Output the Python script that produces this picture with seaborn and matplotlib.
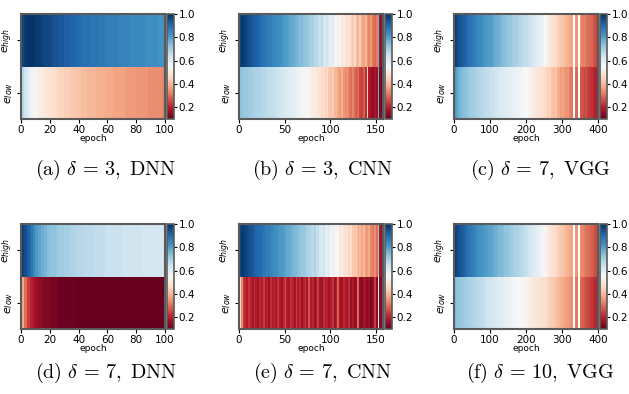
import numpy as np
import pandas as pd
import matplotlib
matplotlib.use('Agg')
import matplotlib.pyplot as plt
import seaborn as sns

nan = np.nan

# (a) delta=3, DNN -- 2 epochs per cell, 100 epochs
dnn3_high = [0.96, 0.98, 0.99, 0.99, 0.99, 0.98, 0.98, 0.97, 0.96, 0.96,
             0.95, 0.94, 0.94, 0.93, 0.93, 0.92, 0.92, 0.91, 0.91, 0.90,
             0.90, 0.89, 0.89, 0.89, 0.88, 0.88, 0.88, 0.87, 0.87, 0.87,
             0.86, 0.86, 0.86, 0.86, 0.85, 0.85, 0.85, 0.85, 0.84, 0.84,
             0.84, 0.84, 0.84, 0.83, 0.83, 0.83, 0.83, 0.83, 0.82, 0.82]
dnn3_low = [0.68, 0.64, 0.60, 0.57, 0.55, 0.53, 0.52, 0.51, 0.50, 0.49,
            0.48, 0.47, 0.46, 0.45, 0.45, 0.44, 0.44, 0.43, 0.43, 0.42,
            0.42, 0.41, 0.41, 0.40, 0.40, 0.40, 0.39, 0.39, 0.39, 0.38,
            0.38, 0.38, 0.37, 0.37, 0.37, 0.37, 0.36, 0.36, 0.36, 0.36,
            0.35, 0.35, 0.35, 0.35, 0.34, 0.34, 0.34, 0.34, 0.34, 0.33]

# (d) delta=7, DNN
dnn7_high = [0.97, 0.95, 0.92, 0.88, 0.84, 0.81, 0.79, 0.77, 0.76, 0.74,
             0.73, 0.73, 0.72, 0.71, 0.71, 0.70, 0.70, 0.69, 0.69, 0.68,
             0.68, 0.68, 0.67, 0.67, 0.67, 0.66, 0.66, 0.66, 0.66, 0.65,
             0.65, 0.65, 0.65, 0.65, 0.65, 0.64, 0.64, 0.64, 0.64, 0.64,
             0.64, 0.64, 0.63, 0.63, 0.63, 0.63, 0.63, 0.63, 0.63, 0.63]
dnn7_low = [0.38, 0.30, 0.24, 0.20, 0.18, 0.16, 0.15, 0.14, 0.13, 0.13,
            0.12, 0.12, 0.12, 0.11, 0.11, 0.11, 0.11, 0.11, 0.11, 0.10,
            0.10, 0.10, 0.10, 0.10, 0.10, 0.10, 0.10, 0.10, 0.10, 0.10,
            0.10, 0.10, 0.10, 0.10, 0.10, 0.10, 0.10, 0.10, 0.10, 0.10,
            0.10, 0.10, 0.10, 0.10, 0.10, 0.10, 0.10, 0.10, 0.10, 0.10]

# (b) delta=3, CNN -- 2 epochs per cell, 158 epochs
cnn3_high = [0.96, 0.98, 0.98, 0.97, 0.96, 0.95, 0.94, 0.93, 0.92, 0.92,
             0.91, 0.90, 0.89, 0.88, 0.88, 0.87, 0.86, 0.86, 0.85, 0.84,
             0.84, 0.83, 0.83, 0.82, 0.81, 0.80, 0.80, 0.79, 0.78, 0.78,
             0.77, 0.76, 0.76, 0.74, 0.75, 0.73, 0.72, 0.73, 0.71, 0.70,
             0.70, 0.67, 0.69, 0.66, 0.65, 0.67, 0.63, 0.62, 0.64, 0.60,
             0.58, 0.61, 0.56, 0.55, 0.52, 0.55, 0.50, 0.52, 0.48, 0.47,
             0.49, 0.45, 0.43, 0.47, 0.41, 0.40, 0.44, 0.38, 0.37, 0.40,
             0.35, 0.33, 0.36, 0.31, 0.29, 0.32, 0.77, 0.17, 0.15]
cnn3_low = [0.73, 0.73, 0.72, 0.72, 0.72, 0.71, 0.71, 0.70, 0.70, 0.69,
            0.69, 0.69, 0.68, 0.68, 0.67, 0.67, 0.66, 0.66, 0.66, 0.65,
            0.65, 0.64, 0.64, 0.63, 0.63, 0.62, 0.61, 0.61, 0.60, 0.59,
            0.59, 0.58, 0.58, 0.57, 0.56, 0.56, 0.55, 0.54, 0.54, 0.52,
            0.51, 0.52, 0.49, 0.50, 0.48, 0.46, 0.47, 0.44, 0.46, 0.43,
            0.42, 0.44, 0.40, 0.41, 0.38, 0.36, 0.39, 0.35, 0.34, 0.36,
            0.32, 0.30, 0.33, 0.29, 0.27, 0.30, 0.25, 0.24, 0.28, 0.22,
            0.45, 0.19, 0.17, 0.15, 0.18, 0.16, 0.77, 0.13, 0.12]

# (e) delta=7, CNN
cnn7_high = [0.96, 0.98, 0.98, 0.97, 0.96, 0.95, 0.94, 0.93, 0.92, 0.91,
             0.90, 0.90, 0.89, 0.88, 0.87, 0.86, 0.86, 0.85, 0.84, 0.83,
             0.83, 0.82, 0.81, 0.81, 0.80, 0.79, 0.78, 0.78, 0.77, 0.76,
             0.75, 0.75, 0.74, 0.73, 0.72, 0.72, 0.71, 0.70, 0.69, 0.68,
             0.67, 0.69, 0.65, 0.66, 0.63, 0.62, 0.64, 0.60, 0.59, 0.61,
             0.56, 0.58, 0.54, 0.53, 0.55, 0.50, 0.52, 0.48, 0.47, 0.50,
             0.45, 0.47, 0.43, 0.42, 0.45, 0.39, 0.40, 0.37, 0.41, 0.36,
             0.35, 0.38, 0.33, 0.32, 0.34, 0.30, 0.72, 0.18, 0.16]
cnn7_low = [0.47, 0.33, 0.24, 0.21, 0.19, 0.23, 0.20, 0.18, 0.22, 0.19,
            0.17, 0.21, 0.19, 0.24, 0.18, 0.20, 0.16, 0.22, 0.19, 0.21,
            0.18, 0.23, 0.19, 0.17, 0.21, 0.26, 0.19, 0.18, 0.22, 0.20,
            0.17, 0.24, 0.19, 0.21, 0.16, 0.20, 0.23, 0.18, 0.27, 0.19,
            0.21, 0.17, 0.19, 0.24, 0.18, 0.16, 0.22, 0.19, 0.20, 0.17,
            0.19, 0.23, 0.17, 0.20, 0.28, 0.18, 0.16, 0.21, 0.19, 0.17,
            0.22, 0.16, 0.19, 0.15, 0.17, 0.30, 0.15, 0.14, 0.18, 0.16,
            0.14, 0.16, 0.13, 0.15, 0.24, 0.14, 0.60, 0.13, 0.14]

# (c) delta=7, VGG -- 5 epochs per cell, 400 epochs (nan = missing epoch)
vgg7_high = [0.97, 0.96, 0.95, 0.94, 0.93, 0.92, 0.91, 0.90, 0.89, 0.88,
             0.87, 0.86, 0.85, 0.84, 0.84, 0.83, 0.82, 0.81, 0.81, 0.80,
             0.80, 0.79, 0.78, 0.77, 0.77, 0.76, 0.75, 0.74, 0.74, 0.73,
             0.72, 0.72, 0.71, 0.70, 0.70, 0.69, 0.68, 0.68, 0.67, 0.66,
             0.66, 0.65, 0.64, 0.63, 0.62, 0.61, 0.60, 0.58, 0.59, 0.57,
             0.55, 0.53, 0.52, 0.50, 0.49, 0.47, 0.46, 0.45, 0.44, 0.43,
             0.42, 0.41, 0.40, 0.39, 0.38, 0.37, nan, 0.36, 0.35, nan,
             0.34, 0.32, 0.33, 0.31, 0.30, 0.29, 0.29, 0.27, 0.26, 0.25]
vgg7_low = [0.81, 0.79, 0.77, 0.76, 0.75, 0.74, 0.73, 0.73, 0.72, 0.71,
            0.71, 0.70, 0.69, 0.69, 0.68, 0.68, 0.67, 0.67, 0.66, 0.66,
            0.65, 0.65, 0.64, 0.64, 0.63, 0.62, 0.62, 0.61, 0.61, 0.60,
            0.60, 0.59, 0.59, 0.58, 0.58, 0.57, 0.57, 0.56, 0.56, 0.55,
            0.55, 0.54, 0.53, 0.52, 0.51, 0.50, 0.49, 0.48, 0.49, 0.47,
            0.46, 0.45, 0.44, 0.45, 0.42, 0.41, 0.42, 0.39, 0.38, 0.36,
            0.37, 0.35, 0.34, 0.35, 0.32, 0.31, nan, 0.30, 0.29, nan,
            0.27, 0.26, 0.25, 0.26, 0.24, 0.23, 0.22, 0.21, 0.20, 0.19]

# (f) delta=10, VGG
vgg10_high = [0.97, 0.96, 0.95, 0.94, 0.93, 0.92, 0.90, 0.89, 0.88, 0.87,
              0.86, 0.85, 0.84, 0.83, 0.82, 0.82, 0.81, 0.80, 0.80, 0.79,
              0.79, 0.78, 0.77, 0.77, 0.76, 0.75, 0.75, 0.74, 0.73, 0.73,
              0.72, 0.71, 0.71, 0.70, 0.69, 0.69, 0.68, 0.67, 0.67, 0.66,
              0.65, 0.64, 0.63, 0.62, 0.61, 0.60, 0.59, 0.58, 0.57, 0.56,
              0.54, 0.53, 0.51, 0.50, 0.48, 0.47, 0.46, 0.45, 0.44, 0.43,
              0.42, 0.41, 0.40, 0.39, 0.38, 0.37, nan, 0.36, 0.35, nan,
              0.34, 0.33, 0.32, 0.31, 0.30, 0.29, 0.28, 0.27, 0.26, 0.25]
vgg10_low = [0.74, 0.73, 0.73, 0.72, 0.72, 0.71, 0.71, 0.70, 0.70, 0.69,
             0.69, 0.68, 0.68, 0.67, 0.67, 0.66, 0.66, 0.65, 0.64, 0.64,
             0.63, 0.63, 0.62, 0.62, 0.61, 0.61, 0.60, 0.60, 0.59, 0.58,
             0.58, 0.57, 0.57, 0.56, 0.56, 0.55, 0.55, 0.54, 0.54, 0.53,
             0.53, 0.52, 0.52, 0.51, 0.50, 0.50, 0.49, 0.49, 0.48, 0.47,
             0.47, 0.46, 0.45, 0.44, 0.44, 0.43, 0.42, 0.41, 0.40, 0.39,
             0.38, 0.37, 0.37, 0.36, 0.35, 0.34, nan, 0.32, 0.31, nan,
             0.29, 0.28, 0.27, 0.26, 0.25, 0.24, 0.23, 0.22, 0.21, 0.20]

row_labels = [r'$e_{high}$', r'$e_{low}$']
dnn_ticks = [0, 20, 40, 60, 80, 100]
cnn_ticks = [0, 50, 100, 150]
vgg_ticks = [0, 100, 200, 300, 400]
captions = [r'$\mathrm{(a)}\ \delta\,=\,3,\ \mathrm{DNN}$',
            r'$\mathrm{(b)}\ \delta\,=\,3,\ \mathrm{CNN}$',
            r'$\mathrm{(c)}\ \delta\,=\,7,\ \mathrm{VGG}$',
            r'$\mathrm{(d)}\ \delta\,=\,7,\ \mathrm{DNN}$',
            r'$\mathrm{(e)}\ \delta\,=\,7,\ \mathrm{CNN}$',
            r'$\mathrm{(f)}\ \delta\,=\,10,\ \mathrm{VGG}$']

panels = [
    (dnn3_high, dnn3_low, 2, dnn_ticks),
    (cnn3_high, cnn3_low, 2, cnn_ticks),
    (vgg7_high, vgg7_low, 5, vgg_ticks),
    (dnn7_high, dnn7_low, 2, dnn_ticks),
    (cnn7_high, cnn7_low, 2, cnn_ticks),
    (vgg10_high, vgg10_low, 5, vgg_ticks),
]

W, H = 629, 394
fig = plt.figure(figsize=(W / 100, H / 100), dpi=100)

col_left = [21, 239, 454]
row_top = [14, 224]
ax_w, ax_h = 144, 105
caption_x = [106, 323, 540]
caption_y = [170, 373]
frame = '#5a5a5a'


def draw_panel(ax, cax, high, low, step, ticks):
    df = pd.DataFrame([high, low], index=row_labels,
                      columns=[i * step for i in range(len(high))])
    sns.heatmap(df, ax=ax, cbar_ax=cax, cmap='RdBu', vmin=0.1, vmax=1.0,
                xticklabels=False, yticklabels=True)
    ax.set_xticks([t / step for t in ticks])
    ax.set_xticklabels([str(t) for t in ticks], rotation=0, fontsize=7.5)
    ax.set_yticks([0.5, 1.5])
    ax.set_yticklabels(row_labels, rotation=90, va='center', fontsize=8)
    ax.tick_params(axis='both', length=3, width=0.8, pad=1.5)
    ax.set_xlabel('epoch', fontsize=6.5, labelpad=-1)
    ax.set_ylabel('')
    for sp in ax.spines.values():
        sp.set_visible(True)
        sp.set_color(frame)
        sp.set_linewidth(1.5)
    cb = ax.collections[0].colorbar
    cb.set_ticks([0.2, 0.4, 0.6, 0.8, 1.0])
    cb.ax.tick_params(labelsize=7.5, length=2.5, width=0.8, pad=1)
    cb.outline.set_linewidth(1.2)
    cb.outline.set_edgecolor(frame)


for k, (high, low, step, ticks) in enumerate(panels):
    r, c = divmod(k, 3)
    x0 = col_left[c]
    y0 = row_top[r]
    ax = fig.add_axes([x0 / W, 1 - (y0 + ax_h) / H, ax_w / W, ax_h / H])
    cax = fig.add_axes([(x0 + ax_w + 2) / W, 1 - (y0 + ax_h) / H, 7 / W, ax_h / H])
    draw_panel(ax, cax, high, low, step, ticks)
    fig.text(caption_x[c] / W, 1 - caption_y[r] / H, captions[k],
             ha='center', va='center', fontsize=14.5, math_fontfamily='cm')

fig.savefig('out.png', dpi=100)
